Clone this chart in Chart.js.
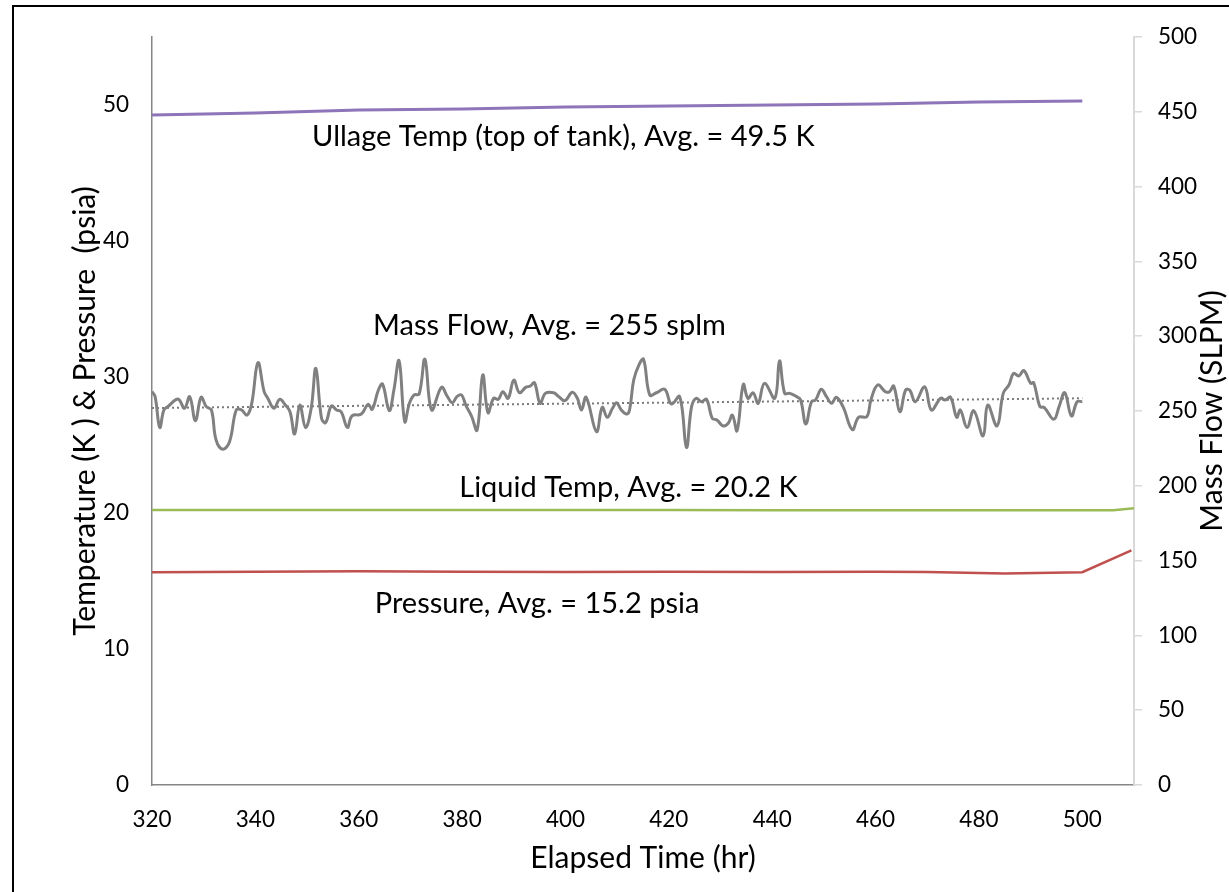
<!DOCTYPE html>
<html>
<head>
<meta charset="utf-8">
<script src="https://cdn.jsdelivr.net/npm/chart.js@4.4.1/dist/chart.umd.min.js"></script>
<style>
  html, body { margin: 0; padding: 0; background: #fff; overflow: hidden; }
  #wrap { position: relative; width: 1229px; height: 892px; overflow: hidden; }
  #frame { position: absolute; left: 12px; top: 5px; width: 1300px; height: 1000px; border: 2px solid #000; box-sizing: border-box; }
  #c { position: absolute; left: 0; top: 0; }
</style>
</head>
<body>
<div id="wrap">
  <div id="frame"></div>
  <canvas id="c" width="1229" height="892"></canvas>
</div>
<script>
// Elapsed-time axis ticks (hr) and value-axis ticks
const timeTicks = [320, 340, 360, 380, 400, 420, 440, 460, 480, 500];
const tempTicks = [0, 10, 20, 30, 40, 50];
const flowTicks = [0, 50, 100, 150, 200, 250, 300, 350, 400, 450, 500];

// Ullage temperature, top of tank (K)
const ullageHours = [320, 340, 360, 380, 400, 420, 440, 460, 480, 500];
const ullageTemp  = [49.26, 49.41, 49.63, 49.71, 49.85, 49.93, 50.0, 50.07, 50.22, 50.29];

// Liquid temperature (K)
const liquidHours = [320, 340, 360, 380, 400, 420, 440, 460, 480, 500, 506, 510];
const liquidTemp  = [20.22, 20.22, 20.22, 20.22, 20.22, 20.22, 20.2, 20.2, 20.2, 20.2, 20.2, 20.35];

// Tank pressure (psia)
const pressureHours = [320, 340, 360, 380, 400, 420, 440, 460, 470, 485, 500, 509.5];
const pressure      = [15.65, 15.68, 15.72, 15.68, 15.66, 15.68, 15.66, 15.68, 15.66, 15.55, 15.65, 17.25];

// Mass flow (SLPM)
const flowHours = [
  320.0, 320.6, 321.5, 322.3, 323.1, 324.7, 325.3, 326.3, 327.3, 328.4, 329.5, 330.5, 331.5, 332.4, 333.7,
  335.0, 336.3, 337.3, 338.4, 339.3, 340.5, 341.7, 342.4, 343.6, 344.7, 345.8, 346.7, 347.6, 348.6, 349.7,
  350.8, 351.7, 352.8, 353.6, 354.7, 355.7, 356.6, 357.8, 358.7, 360.5, 361.8, 362.6, 363.8, 364.6, 365.9,
  366.8, 367.8, 368.9, 369.8, 370.7, 371.7, 372.8, 374.1, 376.0, 377.1, 378.1, 379.0, 379.9, 380.7, 381.8,
  382.9, 384.0, 385.0, 386.1, 387.0, 387.9, 388.9, 390.0, 391.1, 392.3, 393.2, 394.0, 395.1, 396.1, 397.7,
  398.7, 399.9, 401.3, 402.3, 403.1, 404.0, 406.0, 407.1, 408.1, 409.1, 409.9, 410.8, 411.8, 412.4, 413.2,
  414.2, 415.1, 416.3, 417.6, 419.2, 420.5, 422.1, 423.4, 424.4, 425.3, 426.3, 427.3, 428.4, 429.3, 430.5,
  431.5, 432.3, 433.2, 434.4, 435.3, 436.3, 437.3, 438.5, 440.5, 441.4, 442.4, 443.4, 444.7, 445.5, 446.5,
  447.6, 448.4, 449.5, 450.5, 451.5, 452.4, 453.7, 455.5, 456.7, 458.3, 459.1, 460.4, 461.9, 462.7, 463.5,
  464.7, 465.8, 466.6, 467.7, 469.5, 470.8, 472.6, 473.5, 474.5, 475.7, 476.4, 477.7, 479.0, 480.8, 481.7,
  483.5, 484.7, 485.8, 486.7, 487.7, 488.7, 490.0, 490.6, 491.8, 492.6, 494.5, 495.5, 496.6, 497.9, 499.0,
  500.0
];
const massFlow = [
  263.0, 259.6, 239.0, 250.7, 253.0, 257.8, 257.4, 251.8, 259.6, 243.5, 259.2, 252.9, 250.7, 230.6, 224.4,
  229.5, 250.7, 250.7, 247.3, 255.1, 282.3, 262.9, 258.5, 251.8, 257.8, 254.0, 249.5, 234.6, 254.0, 239.0,
  251.8, 278.5, 245.1, 242.2, 253.3, 250.7, 249.5, 239.0, 246.7, 248.0, 254.5, 251.1, 264.0, 268.0, 250.2,
  264.0, 283.6, 242.9, 255.1, 260.7, 261.4, 284.6, 250.7, 265.8, 260.0, 255.5, 259.6, 260.7, 254.0, 246.7,
  237.3, 274.1, 248.9, 258.5, 257.8, 262.9, 258.5, 270.7, 262.2, 265.8, 266.7, 268.9, 255.1, 261.8, 262.2,
  259.6, 256.9, 262.5, 258.5, 250.7, 259.2, 236.2, 252.4, 245.8, 251.8, 255.5, 250.7, 248.0, 250.7, 270.7,
  280.7, 284.6, 260.7, 262.2, 264.5, 254.7, 259.6, 225.7, 252.9, 258.5, 256.2, 257.8, 245.1, 244.0, 240.0,
  241.8, 247.3, 236.8, 267.8, 258.5, 262.2, 255.1, 268.5, 258.5, 283.6, 261.8, 261.8, 259.6, 257.4, 241.3,
  256.2, 257.4, 264.5, 259.6, 255.1, 259.2, 252.9, 237.5, 245.8, 246.2, 257.4, 267.4, 262.9, 262.9, 266.7,
  249.5, 264.0, 264.0, 256.2, 266.2, 250.7, 258.5, 257.4, 259.2, 245.8, 250.7, 239.0, 250.2, 233.3, 254.0,
  240.0, 261.8, 267.4, 275.2, 273.4, 277.0, 268.5, 268.9, 252.9, 252.4, 244.5, 252.9, 262.2, 246.7, 256.2,
  256.2
];

// Linear trend of the mass flow
const trendHours = [320, 500];
const trendFlow  = [252.0, 258.5];

// Series captions, anchored in (hr, K/psia) units
const captions = [
  { text: 'Ullage Temp (top of tank), Avg. = 49.5 K', hr: 399.6, val: 47.65 },
  { text: 'Mass Flow, Avg. = 255 splm',               hr: 396.9, val: 33.8 },
  { text: 'Liquid Temp, Avg. = 20.2 K',               hr: 412.2, val: 21.84 },
  { text: 'Pressure, Avg. = 15.2 psia',               hr: 394.5, val: 13.3 }
];

const pts = (xs, ys) => xs.map((x, i) => ({ x: x, y: ys[i] }));
const FONT = 'Lato';

const captionPlugin = {
  id: 'captionPlugin',
  afterDatasetsDraw(chart) {
    const { ctx, chartArea, scales } = chart;
    ctx.save();
    ctx.fillStyle = '#000';
    ctx.textAlign = 'center';
    ctx.textBaseline = 'middle';
    ctx.font = '29px ' + FONT;
    captions.forEach(c => {
      ctx.fillText(c.text, scales.x.getPixelForValue(c.hr), scales.y.getPixelForValue(c.val));
    });
    // right-hand axis title, reading bottom to top
    ctx.translate(scales.y2.right - 17, (chartArea.top + chartArea.bottom) / 2);
    ctx.rotate(-Math.PI / 2);
    ctx.font = '30px ' + FONT;
    ctx.fillText('Mass Flow (SLPM)', 0, 0);
    ctx.restore();
  }
};

function draw() {
  Chart.defaults.color = '#000';
  Chart.defaults.font.family = FONT;
  new Chart(document.getElementById('c'), {
    type: 'line',
    data: {
      datasets: [
        { label: 'Ullage Temp', data: pts(ullageHours, ullageTemp), yAxisID: 'y',
          borderColor: '#8e74b8', borderWidth: 3, pointRadius: 0, tension: 0 },
        { label: 'Mass Flow', data: pts(flowHours, massFlow), yAxisID: 'y2',
          borderColor: '#808080', borderWidth: 3, pointRadius: 0, tension: 0.4 },
        { label: 'Mass Flow trend', data: pts(trendHours, trendFlow), yAxisID: 'y2',
          borderColor: '#7a7a7a', borderWidth: 2, borderDash: [2, 3], pointRadius: 0, tension: 0 },
        { label: 'Liquid Temp', data: pts(liquidHours, liquidTemp), yAxisID: 'y',
          borderColor: '#9bbb59', borderWidth: 2.5, pointRadius: 0, tension: 0 },
        { label: 'Pressure', data: pts(pressureHours, pressure), yAxisID: 'y',
          borderColor: '#c0504d', borderWidth: 2.5, pointRadius: 0, tension: 0 }
      ]
    },
    options: {
      responsive: false,
      animation: false,
      devicePixelRatio: 1,
      layout: { padding: { top: 37, left: 0, right: 0, bottom: 0 } },
      plugins: { legend: { display: false }, tooltip: { enabled: false } },
      scales: {
        x: {
          type: 'linear', min: 320, max: 510,
          afterBuildTicks: s => { s.ticks = timeTicks.map(v => ({ value: v })); },
          afterFit: s => { s.height = 107; },
          grid: { display: false, drawTicks: false },
          border: { display: true, color: '#868686', width: 1.5 },
          ticks: { padding: 21, font: { size: 22.5 }, maxRotation: 0 },
          title: { display: true, text: 'Elapsed Time (hr)', font: { size: 30 }, padding: { bottom: 16, top: 0 } }
        },
        y: {
          type: 'linear', position: 'left', min: 0, max: 55,
          afterBuildTicks: s => { s.ticks = tempTicks.map(v => ({ value: v })); },
          afterFit: s => { s.width = 152; },
          grid: { display: false, drawTicks: false },
          border: { display: true, color: '#868686', width: 1.5 },
          ticks: { padding: 23, font: { size: 22.5 } },
          title: { display: true, text: 'Temperature (K ) & Pressure  (psia)', font: { size: 30 }, padding: { top: 67, bottom: 0 } }
        },
        y2: {
          type: 'linear', position: 'right', min: 0, max: 500,
          afterBuildTicks: s => { s.ticks = flowTicks.map(v => ({ value: v })); },
          afterFit: s => { s.width = 95; },
          grid: { display: true, drawOnChartArea: false, drawTicks: true, tickLength: 8, color: '#d9d9d9', lineWidth: 1.5 },
          border: { display: true, color: '#d9d9d9', width: 2 },
          ticks: { padding: 16, font: { size: 22.5 } }
        }
      }
    },
    plugins: [captionPlugin]
  });
}

if (document.fonts && document.fonts.load) {
  Promise.all([document.fonts.load('24px Lato'), document.fonts.load('21px Lato')]).then(draw, draw);
} else {
  draw();
}
</script>
</body>
</html>
